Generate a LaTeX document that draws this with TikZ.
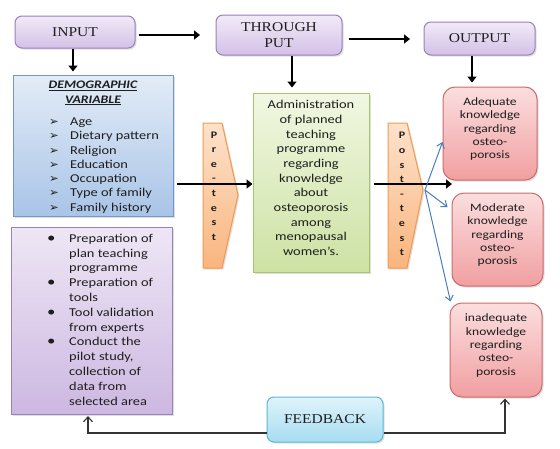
\documentclass[tikz,border=0pt]{standalone}
\usepackage{fontspec}
\setmainfont{Carlito}[FakeStretch=1.2]
\newfontfamily\titlefont{Liberation Serif}[FakeStretch=1.15]
\newfontfamily\symfont{DejaVu Sans}
\usetikzlibrary{arrows.meta,shadows}

\definecolor{textdark}{HTML}{1E1E1E}
\definecolor{headtop}{HTML}{F2EAF8}
\definecolor{headbot}{HTML}{D3C1E6}
\definecolor{headline}{HTML}{9A80BD}
\definecolor{demotop}{HTML}{E3ECF7}
\definecolor{demobot}{HTML}{A9C4E7}
\definecolor{demoline}{HTML}{6E98CF}
\definecolor{plantop}{HTML}{EEE6F5}
\definecolor{planbot}{HTML}{CDB8E1}
\definecolor{planline}{HTML}{9A80BD}
\definecolor{greentop}{HTML}{F1F7E2}
\definecolor{greenbot}{HTML}{CDE2A3}
\definecolor{greenline}{HTML}{A6C66D}
\definecolor{orangetop}{HTML}{FDE2CB}
\definecolor{orangebot}{HTML}{F9B57E}
\definecolor{orangeline}{HTML}{F39A4E}
\definecolor{pinktop}{HTML}{FBDEDF}
\definecolor{pinkbot}{HTML}{F19FA1}
\definecolor{pinkline}{HTML}{CC6B6B}
\definecolor{fbtop}{HTML}{DFF4FB}
\definecolor{fbbot}{HTML}{A6DCF1}
\definecolor{fbline}{HTML}{5DB8D3}
\definecolor{fanblue}{HTML}{4A7EBB}

\newcommand{\arrowbullet}{\makebox[21pt][l]{\symfont\fontsize{11.5}{11.5}\selectfont ➢}}
\newcommand{\dotbullet}{\makebox[22pt][l]{\fontsize{14}{14}\selectfont •}}

\begin{document}
\begin{tikzpicture}[x=1pt,y=-1pt,
  softshadow/.style={drop shadow={shadow xshift=1.5pt,shadow yshift=-1.5pt,opacity=0.25}},
  headbox/.style={draw=headline, line width=1pt, rounded corners=7pt,
    top color=headtop, bottom color=headbot, softshadow,
    font=\titlefont\fontsize{13.5}{16}\selectfont, text=textdark,
    align=center, inner sep=0pt},
  panel/.style={line width=1pt, inner sep=0pt, softshadow},
  resultbox/.style={draw=pinkline, line width=1pt, rounded corners=12pt,
    top color=pinktop, bottom color=pinkbot, softshadow, inner sep=0pt},
  bodytext/.style={text=textdark, inner sep=0pt, align=center,
    font=\fontsize{12}{14.7}\selectfont},
  listtext/.style={text=textdark, inner sep=0pt, align=left, anchor=west},
  resulttext/.style={text=textdark, inner sep=0pt, align=center,
    font=\fontsize{11.3}{13.3}\selectfont},
  lettertext/.style={text=textdark, inner sep=0pt, align=center,
    font=\bfseries\fontsize{10}{14.6}\selectfont},
  bigarrow/.style={line width=2.6pt, -{Triangle[length=6pt,width=9pt]}},
  fanarrow/.style={draw=fanblue, line width=1pt, -{Straight Barb[length=5pt,width=8pt]}},
  fbarrow/.style={draw=black!80, line width=1.1pt, -{Straight Barb[length=5pt,width=9pt]}}
]
\useasboundingbox (0,0) rectangle (560,448);

% --- top row of stage headings
\node[headbox, minimum width=120pt, minimum height=32pt] (input) at (75,32) {INPUT};
\node[headbox, minimum width=126pt, minimum height=40pt] (through) at (279,35) {THROUGH\\PUT};
\node[headbox, minimum width=111pt, minimum height=33pt] (output) at (479.5,38.5) {OUTPUT};

% --- input column
\node[panel, draw=demoline, top color=demotop, bottom color=demobot,
      minimum width=160pt, minimum height=141pt] (demo) at (93,145.5) {};
\node[text=textdark, inner sep=0pt, align=center,
      font=\bfseries\itshape\fontsize{11.5}{14.5}\selectfont] (demotitle) at (93,93)
  {\underline{DEMOGRAPHIC}\\\underline{VARIABLE}};
\node[listtext, font=\fontsize{12}{14.3}\selectfont] (demolist) at (49,165.5)
  {\arrowbullet Age\\
   \arrowbullet Dietary pattern\\
   \arrowbullet Religion\\
   \arrowbullet Education\\
   \arrowbullet Occupation\\
   \arrowbullet Type of family\\
   \arrowbullet Family history};

\node[panel, draw=planline, top color=plantop, bottom color=planbot,
      minimum width=161pt, minimum height=187pt] (plan) at (91.5,320.5) {};
\node[listtext, font=\fontsize{12}{14.8}\selectfont] (planlist) at (47,319.5)
  {\dotbullet Preparation of\\
   \hspace*{22pt}plan teaching\\
   \hspace*{22pt}programme\\
   \dotbullet Preparation of\\
   \hspace*{22pt}tools\\
   \dotbullet Tool validation\\
   \hspace*{22pt}from experts\\
   \dotbullet Conduct the\\
   \hspace*{22pt}pilot study,\\
   \hspace*{22pt}collection of\\
   \hspace*{22pt}data from\\
   \hspace*{22pt}selected area};

% --- intervention column
\node[panel, draw=greenline, top color=greentop, bottom color=greenbot,
      minimum width=116pt, minimum height=179pt] (green) at (311,182.5) {};
\node[bodytext] (greentext) at (311,178)
  {Administration\\of planned\\teaching\\programme\\regarding\\knowledge\\about\\osteoporosis\\among\\menopausal\\women’s.};

% --- pre-test and post-test chevrons
\draw[line width=1pt, draw=orangeline, top color=orangetop, bottom color=orangebot, softshadow]
  (203,123) -- (222,123) -- (238,195) -- (222,268) -- (203,268) -- cycle;
\node[lettertext] (pre) at (214,186) {P\\r\\e\\-\\t\\e\\s\\t};
\draw[line width=1pt, draw=orangeline, top color=orangetop, bottom color=orangebot, softshadow]
  (388,123) -- (407,123) -- (423,190) -- (407,268) -- (388,268) -- cycle;
\node[lettertext] (post) at (402,194) {P\\o\\s\\t\\-\\t\\e\\s\\t};

% --- outcome boxes
\node[resultbox, minimum width=94pt, minimum height=93pt] (adeq) at (490,133.5) {};
\node[resulttext] (adeqtext) at (490,129) {Adequate\\knowledge\\regarding\\osteo-\\porosis};
\node[resultbox, minimum width=91pt, minimum height=93pt] (mod) at (497.5,239.5) {};
\node[resulttext] (modtext) at (497.5,235) {Moderate\\knowledge\\regarding\\osteo-\\porosis};
\node[resultbox, minimum width=92pt, minimum height=94pt] (inad) at (496,350) {};
\node[resulttext] (inadtext) at (496,345.5) {inadequate\\knowledge\\regarding\\osteo-\\porosis};

% --- feedback
\node[headbox, draw=fbline, top color=fbtop, bottom color=fbbot,
      minimum width=116pt, minimum height=45pt] (fb) at (325,419.5) {FEEDBACK};

% --- connectors between stages
\coordinate (throughin) at (200,35);
\coordinate (outputin) at (410,39);
\draw[bigarrow] ([xshift=3pt,yshift=-3pt]input.east) -- (throughin);
\draw[bigarrow] ([xshift=6pt,yshift=-4pt]through.east) -- (outputin);

\coordinate (inputdown) at ([xshift=-2pt]input.south);
\path (inputdown |- demo.north) ++(0,-3) coordinate (demotop);
\draw[bigarrow] (inputdown) -- (demotop);
\coordinate (throughdown) at ([xshift=13pt]through.south);
\path (throughdown |- green.north) ++(0,-5) coordinate (greentop);
\draw[bigarrow] (throughdown) -- (greentop);
\coordinate (outputdown) at ([xshift=-7.5pt]output.south);
\path (outputdown |- adeq.north) ++(0,-4) coordinate (adeqtop);
\draw[bigarrow] (outputdown) -- (adeqtop);

\coordinate (demoout) at ([xshift=3pt,yshift=-38.5pt]demo.east);
\draw[bigarrow] (demoout) -- (green.west |- demoout);
\coordinate (greenout) at ([xshift=4pt,yshift=-1.5pt]green.east);
\coordinate (postend) at (452,184);
\draw[bigarrow] (greenout) -- (postend);

% --- fan of results
\coordinate (fan) at (425,190);
\draw[fanarrow] (fan) -- ([yshift=-8.5pt]adeq.west);
\draw[fanarrow] (fan) -- ([xshift=-4pt,yshift=32.5pt]mod.west);
\draw[fanarrow] (fan) -- ([xshift=1pt,yshift=1pt]inad.north west);

% --- feedback loop
\draw[fbarrow] ([yshift=-13.5pt]fb.west) -| ([xshift=-3.5pt,yshift=-1.5pt]plan.south);
\draw[fbarrow] ([yshift=-13.5pt]fb.east) -| ([xshift=9pt,yshift=-1pt]inad.south);
\end{tikzpicture}
\end{document}
